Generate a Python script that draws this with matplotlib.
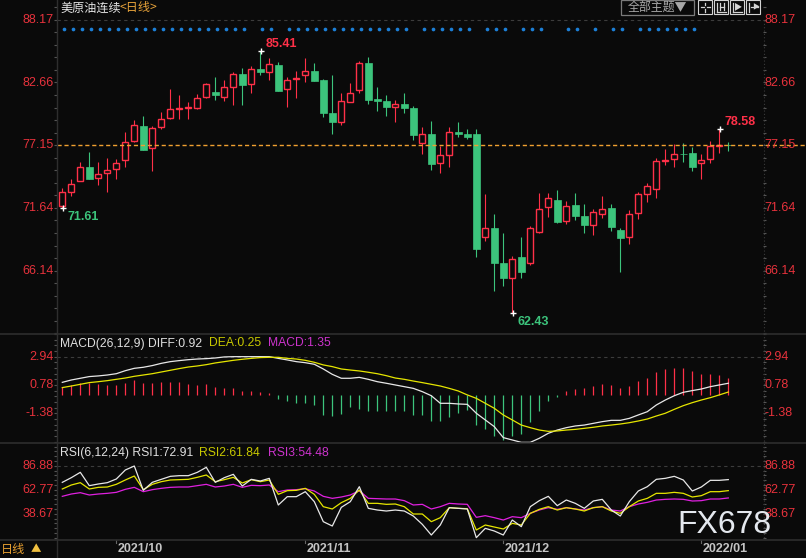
import matplotlib
matplotlib.use('Agg')
import matplotlib.pyplot as plt
import matplotlib.transforms as mtransforms
from matplotlib.lines import Line2D
from matplotlib.patches import Rectangle
import numpy as np

# ---------------- data ----------------
opens = [71.85, 73.08, 74.04, 75.24, 74.25, 74.69, 75.04, 75.83, 77.50, 78.85,
         76.88, 78.73, 79.52, 80.37, 80.40, 80.46, 81.37, 81.83, 81.42, 82.30,
         83.42, 82.51, 83.86, 83.62, 84.21, 82.13, 82.98, 83.30, 83.68, 82.89,
         79.99, 79.23, 80.98, 82.04, 84.38, 81.19, 81.04, 80.55, 80.78, 80.43,
         77.38, 78.14, 75.62, 76.33, 78.32, 78.14, 78.14, 69.12, 69.88, 66.81,
         65.52, 67.33, 66.84, 69.56, 71.76, 72.34, 70.53, 71.90, 70.94, 70.18,
         71.14, 71.64, 69.71, 69.06, 71.17, 72.90, 73.28, 75.80, 75.92, 76.42,
         76.45, 75.57, 75.92, 77.06, 77.21]
highs = [73.40, 74.16, 75.68, 76.56, 75.68, 76.03, 75.95, 78.32, 79.37, 79.73,
         78.85, 80.05, 82.07, 81.57, 80.96, 81.63, 82.60, 83.15, 82.89, 83.59,
         83.94, 84.12, 85.41, 84.79, 84.44, 83.15, 83.68, 84.82, 84.38, 82.98,
         83.33, 81.75, 82.63, 84.53, 84.91, 82.27, 81.57, 81.10, 81.75, 80.63,
         78.76, 79.29, 77.09, 78.73, 79.20, 78.58, 78.60, 72.87, 71.11, 69.44,
         67.42, 69.09, 70.03, 72.96, 72.96, 73.22, 72.26, 72.96, 71.99, 71.55,
         72.70, 71.99, 69.85, 71.46, 73.05, 73.84, 76.03, 76.80, 77.26, 77.35,
         77.00, 76.39, 77.50, 78.58, 77.44]
lows = [71.61, 72.72, 74.00, 74.18, 73.69, 73.08, 74.22, 75.27, 77.45, 76.74,
        74.92, 78.61, 79.50, 79.43, 79.43, 80.34, 81.35, 81.13, 81.04, 80.72,
        80.72, 81.72, 83.36, 82.92, 81.92, 80.55, 81.34, 82.71, 82.80, 79.67,
        78.17, 78.96, 80.95, 81.78, 80.81, 80.19, 79.75, 79.23, 80.02, 77.65,
        76.42, 75.01, 74.75, 75.27, 77.91, 77.70, 67.36, 68.77, 64.38, 64.82,
        62.43, 65.52, 66.66, 69.47, 70.85, 70.35, 70.24, 70.59, 69.44, 69.30,
        70.76, 69.65, 66.02, 68.51, 70.70, 72.20, 72.55, 75.45, 75.27, 75.71,
        74.89, 74.22, 75.59, 76.51, 76.68]
closes = [73.05, 73.75, 75.21, 74.22, 74.60, 74.95, 75.57, 77.41, 78.90, 76.77,
          78.64, 79.43, 80.31, 80.43, 80.49, 81.28, 82.51, 81.60, 82.24, 83.42,
          82.48, 83.83, 83.62, 84.27, 81.95, 82.86, 83.04, 83.65, 82.83, 80.02,
          79.23, 81.04, 81.75, 84.38, 81.16, 81.07, 80.55, 80.75, 80.46, 78.09,
          78.11, 75.54, 76.27, 78.29, 78.17, 77.91, 68.07, 69.85, 66.84, 65.52,
          67.13, 66.02, 69.85, 71.52, 72.49, 70.41, 71.79, 70.94, 70.18, 71.26,
          71.55, 70.00, 69.03, 71.08, 72.84, 73.54, 75.74, 75.86, 76.36, 76.36,
          75.27, 75.83, 77.06, 77.18, 77.15]

macd_diff = [0.99, 1.17, 1.30, 1.43, 1.48, 1.55, 1.65, 1.88, 2.06, 2.14,
             2.27, 2.44, 2.57, 2.65, 2.72, 2.77, 2.80, 2.85, 2.93, 2.95,
             2.95, 2.95, 2.95, 2.95, 2.82, 2.70, 2.57, 2.49, 2.37, 2.01,
             1.60, 1.30, 1.30, 1.37, 1.22, 1.04, 0.92, 0.79, 0.66, 0.53,
             0.28, -0.03, -0.61, -0.61, -0.66, -0.69, -1.37, -1.88, -2.39, -3.23,
             -3.41, -3.59, -3.59, -3.28, -2.90, -2.65, -2.47, -2.34, -2.27, -2.14,
             -2.01, -1.91, -1.91, -1.76, -1.50, -1.25, -0.74, -0.36, -0.03, 0.23,
             0.36, 0.48, 0.66, 0.79, 0.92]
macd_dea = [0.59, 0.71, 0.84, 0.97, 1.04, 1.12, 1.22, 1.32, 1.45, 1.55,
            1.65, 1.78, 1.91, 2.04, 2.16, 2.24, 2.34, 2.47, 2.57, 2.67,
            2.75, 2.82, 2.88, 2.90, 2.90, 2.82, 2.77, 2.67, 2.52, 2.32,
            2.19, 2.01, 1.93, 1.86, 1.76, 1.65, 1.50, 1.32, 1.22, 1.09,
            0.97, 0.84, 0.71, 0.53, 0.33, 0.03, -0.23, -0.61, -0.99, -1.50,
            -1.88, -2.27, -2.47, -2.65, -2.75, -2.72, -2.65, -2.60, -2.52, -2.44,
            -2.34, -2.27, -2.19, -2.09, -1.96, -1.81, -1.58, -1.37, -1.07, -0.79,
            -0.56, -0.36, -0.18, 0.03, 0.25]
macd_hist = [0.66, 0.79, 0.97, 0.97, 0.87, 0.79, 0.79, 0.97, 1.20, 0.97,
             0.97, 1.02, 1.02, 1.02, 0.87, 0.79, 0.87, 0.64, 0.56, 0.56,
             0.33, 0.33, 0.25, 0.18, -0.28, -0.43, -0.59, -0.59, -0.74, -1.50,
             -1.58, -1.43, -0.89, -1.04, -1.20, -1.20, -1.20, -1.17, -1.17, -1.48,
             -1.48, -1.93, -1.93, -1.63, -1.32, -1.09, -2.24, -2.55, -3.08, -3.38,
             -3.08, -2.93, -2.01, -1.17, -0.41, -0.10, 0.36, 0.51, 0.59, 0.74,
             0.89, 0.81, 0.59, 0.74, 1.12, 1.35, 1.81, 2.04, 2.11, 2.11,
             1.88, 1.65, 1.65, 1.58, 1.35]

rsi1 = [70.16, 74.85, 80.21, 66.82, 68.49, 69.83, 73.51, 82.55, 86.56, 62.13,
        70.16, 73.18, 76.19, 76.86, 76.86, 80.21, 85.23, 70.16, 74.85, 78.20,
        66.48, 73.18, 71.50, 74.18, 47.41, 55.77, 55.77, 60.79, 50.75, 30.67,
        26.32, 45.06, 50.75, 65.81, 44.06, 42.38, 41.38, 42.38, 41.38, 36.36,
        27.99, 17.28, 27.32, 44.73, 44.06, 43.39, 14.61, 23.98, 21.30, 17.28,
        32.34, 25.65, 45.73, 51.76, 56.11, 46.74, 52.42, 49.08, 44.06, 51.42,
        53.09, 42.38, 36.36, 50.75, 61.46, 65.81, 73.18, 74.18, 76.19, 72.51,
        61.46, 65.48, 72.17, 72.17, 72.91]
rsi2 = [63.47, 67.49, 69.83, 63.47, 65.14, 65.48, 68.16, 72.51, 76.52, 62.80,
        68.16, 70.83, 72.51, 72.84, 73.18, 75.19, 77.53, 70.83, 72.84, 75.19,
        69.50, 72.84, 70.83, 72.51, 58.12, 61.80, 62.13, 64.14, 58.12, 45.73,
        43.39, 49.75, 54.10, 62.47, 49.08, 49.08, 48.08, 48.41, 45.73, 38.37,
        38.37, 30.67, 34.69, 44.73, 44.06, 43.72, 22.30, 27.32, 25.31, 23.31,
        28.99, 27.32, 39.04, 43.05, 45.73, 42.38, 44.73, 43.39, 41.38, 44.73,
        45.73, 41.38, 39.04, 45.73, 51.42, 54.10, 59.12, 59.12, 60.12, 59.12,
        55.44, 56.78, 60.79, 60.79, 61.84]
rsi3 = [56.11, 58.45, 59.79, 57.45, 58.45, 59.12, 60.12, 63.14, 65.14, 60.79,
        62.80, 64.14, 65.14, 65.48, 65.48, 66.82, 68.16, 65.48, 66.48, 68.16,
        65.14, 67.15, 66.82, 67.49, 60.79, 62.47, 62.80, 63.80, 61.46, 56.11,
        54.10, 55.44, 57.45, 61.80, 54.10, 53.76, 53.43, 53.43, 51.76, 47.41,
        48.08, 43.39, 45.73, 49.08, 48.41, 48.08, 35.02, 36.69, 34.69, 32.34,
        35.69, 34.69, 39.04, 42.38, 44.73, 43.05, 44.73, 43.39, 42.38, 44.73,
        45.73, 42.38, 41.38, 45.73, 48.41, 50.08, 52.42, 53.09, 53.43, 53.09,
        51.42, 51.76, 53.43, 53.43, 54.48]

signal_dots = list(range(0, 21)) + [22, 23] + list(range(25, 38)) + [38, 40, 41, 42, 43, 44, 45,
               47, 48, 49, 51, 52, 53, 56, 57, 59, 61, 62, 64, 65, 66, 67, 68, 69, 70]

date_idx = [6, 27, 49, 71]
date_labels = ['2021/10', '2021/11', '2021/12', '2022/01']

price_ticks = [88.17, 82.66, 77.15, 71.64, 66.14]
price_tick_labels = ['88.17', '82.66', '77.15', '71.64', '66.14']
macd_ticks = [2.94, 0.78, -1.38]
macd_tick_labels = ['2.94', '0.78', '-1.38']
rsi_ticks = [86.88, 62.77, 38.67]
rsi_tick_labels = ['86.88', '62.77', '38.67']

marked_points = [(0, 'low'), (22, 'high'), (50, 'low'), (73, 'high')]

# ---------------- style ----------------
plt.rcParams['font.family'] = ['Liberation Sans', 'Noto Sans CJK SC', 'DejaVu Sans']
CJK = ['Noto Sans CJK SC', 'DejaVu Sans']
BG = '#0a0a0a'
RED = '#ff3048'
GREEN = '#3cc47c'
LBL_RED = '#e8323c'
GRID = '#3c3c3c'
SEP = '#2e2e2e'
WHITE_L = '#e8e8e8'
YEL = '#e6e600'
MAG = '#e020e0'

W, H = 806, 558
fig = plt.figure(figsize=(W / 100, H / 100), dpi=100)
fig.patch.set_facecolor(BG)


def fxp(px):
    return px / W


def fyp(py):
    return 1 - py / H


def fline(x0, y0, x1, y1, **kw):
    fig.add_artist(Line2D([fxp(x0), fxp(x1)], [fyp(y0), fyp(y1)],
                          transform=fig.transFigure, **kw))


L_PX, R_PX = 57, 763
X0_PX, STEP_PX = 62.3, 9.0
XL = (L_PX - X0_PX) / STEP_PX
XR = (R_PX - X0_PX) / STEP_PX
AW = R_PX - L_PX

ax = fig.add_axes([fxp(L_PX), fyp(334), AW / W, 334 / H])
axm = fig.add_axes([fxp(L_PX), fyp(443), AW / W, 109 / H])
axr = fig.add_axes([fxp(L_PX), fyp(540), AW / W, 97 / H])
ax.set_ylim(60.57, 89.918)
axm.set_ylim(-3.64, 4.68)
axr.set_ylim(12.27, 109.66)

for a, step, base in ((ax, 5.51 / 5, 60.63), (axm, 2.16 / 5, -3.54), (axr, 24.1 / 5, 14.46)):
    a.set_facecolor(BG)
    for s in a.spines.values():
        s.set_visible(False)
    a.set_xlim(XL, XR)
    a.set_xticks([])
    a.set_yticks([])
    lo, hi = a.get_ylim()
    a.set_yticks(np.arange(base, hi, step), minor=True)
    a.tick_params(axis='y', which='minor', left=True, right=True, length=2.5,
                  width=0.8, color='#555555', direction='out', labelleft=False)


def side_labels(a, vals, labels):
    tr = mtransforms.blended_transform_factory(a.transAxes, a.transData)
    for v, s in zip(vals, labels):
        a.text(-3.5 / AW, v, s, transform=tr, ha='right', va='center', color=LBL_RED,
               fontsize=9, clip_on=False, zorder=6)
        a.text(1 + 1.5 / AW, v, s, transform=tr, ha='left', va='center', color=LBL_RED,
               fontsize=9, clip_on=False, zorder=6)


side_labels(ax, price_ticks, price_tick_labels)
side_labels(axm, macd_ticks, macd_tick_labels)
side_labels(axr, rsi_ticks, rsi_tick_labels)

# ---------------- main candles ----------------
o = np.array(opens); h = np.array(highs); l = np.array(lows); c = np.array(closes)
x = np.arange(len(o))
up = c >= o
ax.axhline(price_ticks[0], color=GRID, ls=(0, (3, 3)), lw=0.8, zorder=1)

ax.vlines(x, l, h, colors=np.where(up, RED, GREEN), linewidth=0.8, zorder=2)
bottoms = np.minimum(o, c)
heights = np.maximum(np.abs(c - o), 0.05)
ax.bar(x[up], heights[up], bottom=bottoms[up], width=0.64, facecolor=BG,
       edgecolor=RED, linewidth=1.0, zorder=3)
ax.bar(x[~up], heights[~up], bottom=bottoms[~up], width=0.74, facecolor=GREEN,
       edgecolor=GREEN, linewidth=0.5, zorder=3)

# signal dots
trd = mtransforms.blended_transform_factory(ax.transData, ax.transAxes)
sd = np.array(signal_dots)
ax.scatter(sd + 0.19, np.full(len(sd), 1 - 29 / 334), transform=trd, s=7,
           color='#1c80d8', linewidths=0, zorder=4)

# last price line
tr2 = mtransforms.blended_transform_factory(ax.transAxes, ax.transData)
ax.plot([0, (W - L_PX) / AW], [closes[-1], closes[-1]], transform=tr2, color='#f0a030',
        lw=1.0, ls=(0, (3, 2)), clip_on=False, zorder=5)

# high / low marks
for i, kind in marked_points:
    if kind == 'high':
        v = highs[i]; col = RED; off = (3.6, 5.4)
    else:
        v = lows[i]; col = GREEN; off = (3.4, -6.5)
    ax.plot(i + 0.1, v, marker='+', ms=5, mew=1.0, color='white', zorder=6)
    ax.annotate(f'{v:.2f}', xy=(i, v), xytext=off, textcoords='offset points', color=col,
                fontsize=9, fontweight='bold', ha='left', va='center', zorder=6)

# ---------------- MACD ----------------
hist = np.array(macd_hist)
axm.axhline(macd_ticks[0], color=GRID, ls=(0, (3, 3)), lw=0.8, zorder=1)
axm.vlines(x, 0, hist, colors=np.where(hist >= 0, RED, GREEN), linewidth=0.9, zorder=2)
axm.plot(x, macd_diff, color=WHITE_L, lw=0.9, zorder=3)
axm.plot(x, macd_dea, color=YEL, lw=0.9, zorder=3)

# ---------------- RSI ----------------
axr.axhline(rsi_ticks[0], color=GRID, ls=(0, (3, 3)), lw=0.8, zorder=1)
axr.plot(x, rsi3, color=MAG, lw=0.9, zorder=2)
axr.plot(x, rsi2, color=YEL, lw=0.9, zorder=3)
axr.plot(x, rsi1, color=WHITE_L, lw=0.9, zorder=4)

# dates
for idx, lab in zip(date_idx, date_labels):
    axr.annotate('', xy=(idx, 0), xycoords=('data', 'axes fraction'))
    axr.plot([idx, idx], [0, -3.0 / 97], transform=mtransforms.blended_transform_factory(
        axr.transData, axr.transAxes), color='#666666', lw=0.8, clip_on=False)
    axr.annotate(lab, xy=(idx, 0), xycoords=('data', 'axes fraction'), xytext=(1.1, -6.3),
                 textcoords='offset points', ha='left', va='center', color='#c4c4c4',
                 fontsize=9, fontweight='bold', annotation_clip=False)

# ---------------- frame lines ----------------
for yy in (334, 443, 540):
    fline(0, yy, W, yy, color=SEP, lw=1.2)
fline(L_PX, 0, L_PX, H, color=SEP, lw=1.0)
fline(R_PX + 0.5, 20, R_PX + 0.5, 540, color='#3a3a3a', lw=0.8, ls=(0, (1, 2)))

# ---------------- titles ----------------
fig.text(fxp(60), fyp(8), '美原油连续', color='#e6e6e6', fontsize=8.7, family=CJK,
         ha='left', va='center')
fig.text(fxp(120), fyp(8), '<日线>', color='#e6a23a', fontsize=8.7, family=CJK,
         ha='left', va='center')

fig.text(fxp(60), fyp(343.5), f'MACD(26,12,9) DIFF:{macd_diff[-1]:.2f}', color='#e0e0e0',
         fontsize=8.7, ha='left', va='center')
fig.text(fxp(209), fyp(343.5), f'DEA:{macd_dea[-1]:.2f}', color='#c8c800', fontsize=8.7,
         ha='left', va='center')
fig.text(fxp(268), fyp(343.5), f'MACD:{macd_hist[-1]:.2f}', color='#cc33cc', fontsize=8.7,
         ha='left', va='center')

fig.text(fxp(60), fyp(453), f'RSI(6,12,24) RSI1:{rsi1[-1]:.2f}', color='#e0e0e0',
         fontsize=8.7, ha='left', va='center')
fig.text(fxp(199), fyp(453), f'RSI2:{rsi2[-1]:.2f}', color='#c8c800', fontsize=8.7,
         ha='left', va='center')
fig.text(fxp(268), fyp(453), f'RSI3:{rsi3[-1]:.2f}', color='#cc33cc', fontsize=8.7,
         ha='left', va='center')

# bottom-left period tag
fig.text(fxp(1), fyp(549), '日线', color='#e8a030', fontsize=8.7, family=CJK,
         ha='left', va='center')
fig.text(fxp(31), fyp(549), '▲', color='#f0c040', fontsize=7.5, family=CJK,
         ha='left', va='center')

# watermark
fig.text(fxp(677), fyp(533), 'FX678', color='#e4e8ee', fontsize=23, ha='left',
         va='baseline')

# ---------------- toolbar ----------------
fig.add_artist(Rectangle((fxp(621), fyp(14.5)), 73 / W, 14 / H, transform=fig.transFigure,
                         fill=False, edgecolor='#7a7a7a', lw=0.9))
fig.text(fxp(657), fyp(7.5), '全部主题▼', color='#a8a8a8', fontsize=8.6, family=CJK,
         ha='center', va='center')
ic = '#d4d4d4'
for x0 in (698, 714, 730, 746):
    fig.add_artist(Rectangle((fxp(x0), fyp(13.5)), 13.5 / W, 13 / H, transform=fig.transFigure,
                             fill=False, edgecolor=ic, lw=0.8))
# icon 1: four-way
fline(700.5, 7, 703.5, 7, color=ic, lw=0.9); fline(706.5, 7, 709.5, 7, color=ic, lw=0.9)
fline(705, 2.5, 705, 5, color=ic, lw=0.9); fline(705, 9, 705, 11.5, color=ic, lw=0.9)
# icon 2
fline(717, 2.5, 717, 11.5, color=ic, lw=0.9); fline(717, 11.5, 726, 11.5, color=ic, lw=0.9)
fline(720, 3, 720, 10, color=ic, lw=0.9); fline(723.5, 3, 723.5, 10, color=ic, lw=0.9)
fline(720, 6.5, 723.5, 6.5, color=ic, lw=0.9)
# icon 3
fline(733, 2.5, 733, 11.5, color=ic, lw=0.9); fline(733, 11.5, 742, 11.5, color=ic, lw=0.9)
fig.text(fxp(738), fyp(6.5), '▶', color=ic, fontsize=6, family=CJK, ha='center', va='center')
# icon 4
fline(749, 2.5, 749, 11.5, color=ic, lw=0.9)
fline(751, 7, 757.5, 7, color=ic, lw=0.9)
fig.text(fxp(756), fyp(7), '▶', color=ic, fontsize=5, family=CJK, ha='center', va='center')

fig.savefig('out.png', dpi=100, facecolor=BG)
